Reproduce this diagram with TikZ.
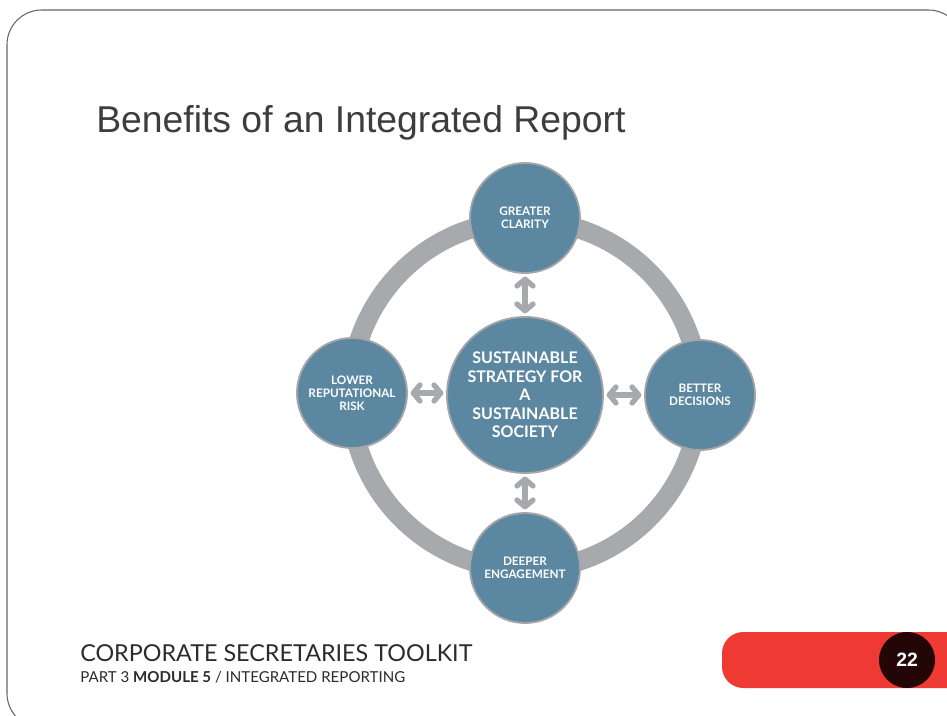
\documentclass[tikz,border=0pt]{standalone}
\usepackage{fontspec}
\setmainfont{Liberation Sans}
\newfontfamily\labelfont{Lato}
\usetikzlibrary{arrows.meta}
\definecolor{steel}{HTML}{5B87A1}
\definecolor{ringgray}{HTML}{A7A9AC}
\definecolor{rimgray}{HTML}{A3A5A8}
\definecolor{slidered}{HTML}{EF3A33}
\definecolor{darkdot}{HTML}{230605}
\definecolor{titlegray}{HTML}{3D3D3D}
\definecolor{footgray}{HTML}{2B2B2B}
\tikzset{
  benefit/.style={circle,fill=steel,draw=rimgray,line width=1.4pt,minimum size=82.5pt,inner sep=0pt,
    text=white,align=center,font=\labelfont\bfseries\fontsize{8.8}{9.8}\selectfont},
  hubnode/.style={benefit,minimum size=117pt,font=\labelfont\bfseries\fontsize{12}{13.9}\selectfont},
  barb/.tip={Straight Barb[length=5pt,width=12pt,line cap=round,line join=round]},
  link/.style={draw=ringgray,line width=4pt,{barb}-{barb},shorten <=2pt,shorten >=2pt}
}
\begin{document}
\begin{tikzpicture}[x=0.75pt,y=-0.75pt]
	\useasboundingbox (0,0) rectangle (947,715);
	\draw[gray!80!black,line width=0.8pt,rounded corners=26pt] (7,10) rectangle (963,728);
	\node[anchor=base west,inner sep=0pt,text=titlegray,font=\fontsize{28}{32}\selectfont] (title) at (96,132) {Benefits of an Integrated Report};
	% ring behind the circles
	\coordinate (hub) at (525,395);
	\draw[ringgray,line width=14.5pt] (hub) circle[radius=131pt];
	\node[hubnode] (core) at (hub) {SUSTAINABLE\\STRATEGY FOR\\A\\SUSTAINABLE\\SOCIETY};
	\node[benefit] (clarity) at (525,218) {GREATER\\CLARITY};
	\node[benefit] (decisions) at (700,395) {BETTER\\DECISIONS};
	\node[benefit] (engagement) at (525,568) {DEEPER\\ENGAGEMENT};
	\node[benefit] (risk) at (352,393) {LOWER\\REPUTATIONAL\\RISK};
	\draw[link] (clarity) -- (core);
	\draw[link] (core) -- (engagement);
	\draw[link] (risk.east) -- (risk.east -| core.west);
	\draw[link] (core.east) -- (decisions.west);
	% footer
	\node[anchor=base west,text=footgray,font=\labelfont\fontsize{17.5}{20}\selectfont,inner sep=0pt] (toolkit) at (80,661) {CORPORATE SECRETARIES TOOLKIT};
	\node[anchor=base west,text=footgray,font=\labelfont\fontsize{11.3}{13}\selectfont,inner sep=0pt] (module) at (80,682) {PART 3 \textbf{MODULE 5} / INTEGRATED REPORTING};
	\fill[slidered,rounded corners=16pt] (722,632) rectangle (990,688);
	\node[circle,fill=darkdot,minimum size=42pt,inner sep=0pt,text=white,font=\bfseries\fontsize{14.5}{16}\selectfont] (page) at (907,660) {22};
\end{tikzpicture}
\end{document}
